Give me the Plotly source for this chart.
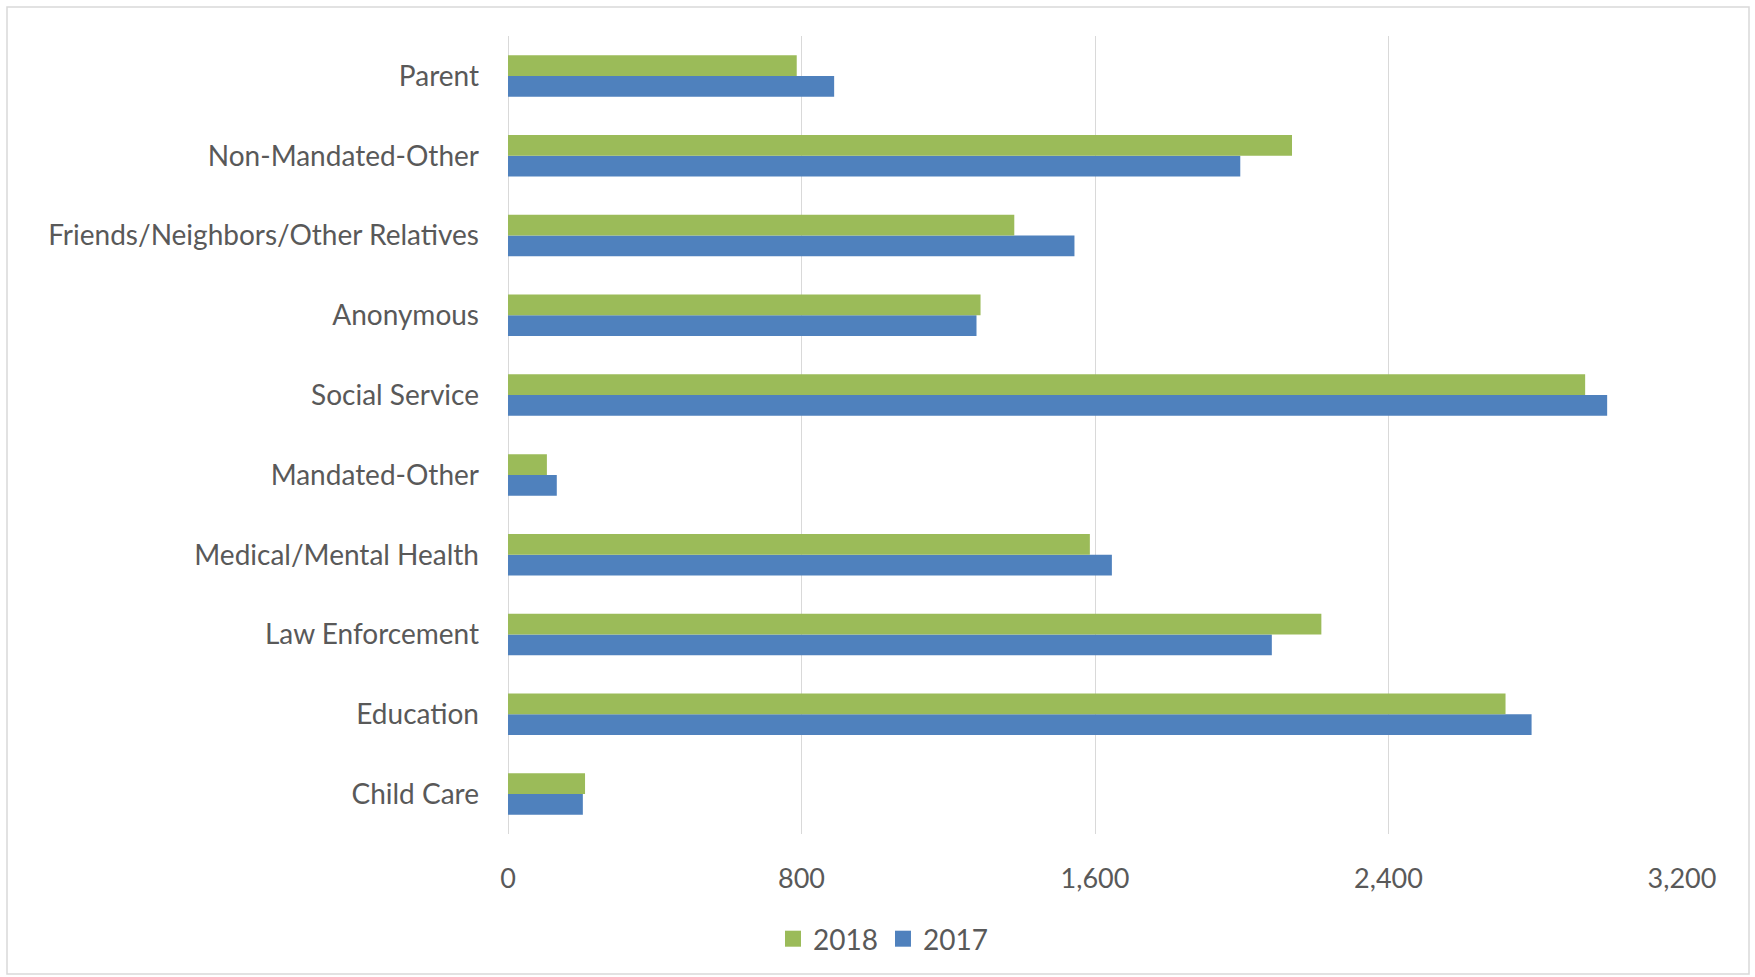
import plotly.graph_objects as go

categories = ["Child Care", "Education", "Law Enforcement", "Medical/Mental Health",
              "Mandated-Other", "Social Service", "Anonymous",
              "Friends/Neighbors/Other Relatives", "Non-Mandated-Other", "Parent"]
values_2018 = [210, 2719, 2217, 1586, 106, 2936, 1288, 1380, 2137, 787]
values_2017 = [204, 2790, 2082, 1646, 133, 2996, 1277, 1544, 1996, 889]
tick_vals = [0, 800, 1600, 2400, 3200]
tick_text = ["0", "800", "1,600", "2,400", "3,200"]

GREEN = "#9BBB59"
BLUE = "#4F81BD"
TXT = "#595959"
GRID = "#D9D9D9"
FONT = "Lato"

W, H = 1755, 977
L, T = 508, 36
R = W - 1682
B = H - 834
pw, ph = W - L - R, H - T - B

fig = go.Figure()
fig.add_trace(go.Bar(y=categories, x=values_2017, name="2017", orientation="h",
                     marker=dict(color=BLUE, line=dict(width=0)), showlegend=False))
fig.add_trace(go.Bar(y=categories, x=values_2018, name="2018", orientation="h",
                     marker=dict(color=GREEN, line=dict(width=0)), showlegend=False))
# legend entries
fig.add_trace(go.Scatter(x=[None], y=[None], mode="markers", name="2018",
                         marker=dict(symbol="square", size=18, color=GREEN)))
fig.add_trace(go.Scatter(x=[None], y=[None], mode="markers", name="2017",
                         marker=dict(symbol="square", size=18, color=BLUE)))

def fx(p):  # pixel -> paper x
    return (p - L) / pw

def fy(p):  # pixel -> paper y
    return (H - B - p) / ph

fig.update_layout(
    width=W, height=H,
    margin=dict(l=L, r=R, t=T, b=B),
    paper_bgcolor="white", plot_bgcolor="white",
    barmode="group", bargap=0.48, bargroupgap=0,
    font=dict(family=FONT, size=28, color=TXT),
    showlegend=True,
    legend=dict(orientation="h", x=fx(883), y=fy(939), xanchor="center", yanchor="middle",
                font=dict(family=FONT, size=28, color=TXT), bgcolor="rgba(0,0,0,0)",
                itemclick=False, tracegroupgap=0),
    xaxis=dict(range=[0, 3200], tickvals=tick_vals, ticktext=tick_text,
               showgrid=True, gridcolor=GRID, gridwidth=1.3,
               zeroline=True, zerolinecolor=GRID, zerolinewidth=1.3,
               showline=False, ticks="", ticklabelstandoff=26,
               tickfont=dict(family=FONT, size=27, color=TXT), fixedrange=True),
    yaxis=dict(categoryorder="array", categoryarray=categories,
               showgrid=False, zeroline=False, showline=False, ticks="",
               ticklabelstandoff=28,
               tickfont=dict(family=FONT, size=28, color=TXT), fixedrange=True),
    shapes=[dict(type="rect", xref="paper", yref="paper",
                 x0=fx(7), x1=fx(1749), y0=fy(974), y1=fy(7),
                 line=dict(color=GRID, width=1.5), fillcolor="rgba(0,0,0,0)", layer="below")],
)

fig.write_html("out.html", config={"displayModeBar": False},
               post_script="document.body.style.margin='0';document.body.style.overflow='hidden';")
